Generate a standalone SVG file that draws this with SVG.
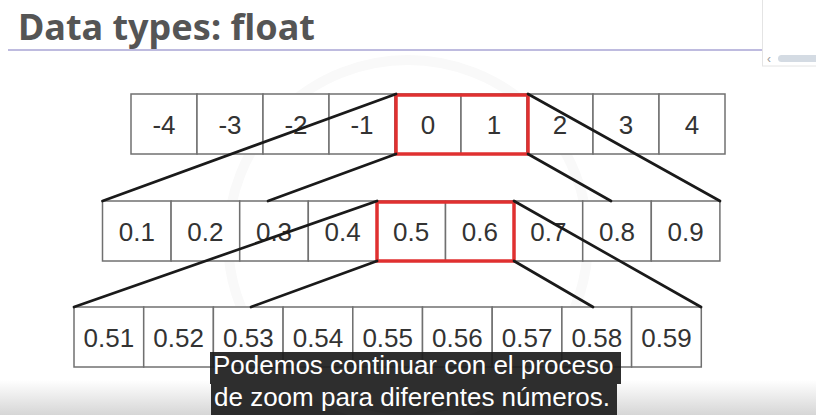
<svg xmlns="http://www.w3.org/2000/svg" width="816" height="415" viewBox="0 0 816 415">
<defs>
<linearGradient id="fade" x1="0" y1="0" x2="0" y2="1">
<stop offset="0" stop-color="#ffffff"/>
<stop offset="1" stop-color="#d6d6d6"/>
</linearGradient>
</defs>
<style>
.cell{fill:#ffffff;stroke:#707070;stroke-width:1.5}
.num{font-family:"Liberation Sans",Arial,sans-serif;font-size:26px;fill:#333333;text-anchor:middle}
.sel{fill:none;stroke:#e03030;stroke-width:3.5}
.zl{stroke:#1a1a1a;stroke-width:2.7;fill:none;stroke-linecap:round}
.sub{font-family:"Liberation Sans",Arial,sans-serif;font-size:26px;fill:#ffffff}
</style>
<rect x="0" y="0" width="816" height="415" fill="#ffffff"/>
<rect x="0" y="380" width="816" height="35" fill="url(#fade)"/>
<circle cx="408" cy="240" r="180" fill="none" stroke="#f9f9f9" stroke-width="10"/>
<g id="title">
<text x="18" y="40" font-family="Noto Sans,Liberation Sans,sans-serif" font-weight="bold" font-size="36" fill="#555555" textLength="297" lengthAdjust="spacingAndGlyphs">Data types: float</text>
<line x1="8" y1="50" x2="762" y2="50" stroke="#a8a4d4" stroke-width="1.5"/>
</g>
<g id="panel">
<rect x="762.5" y="-2" width="60" height="68" fill="#ffffff" stroke="#e4e4e4" stroke-width="1"/>
<text x="767" y="63" font-family="Liberation Sans,sans-serif" font-size="12" fill="#999999">‹</text>
<rect x="778" y="55" width="45" height="7" rx="3.5" fill="#d4dbe3"/>
</g>
<g id="row1">
<rect class="cell" x="131" y="94" width="66" height="60"/>
<rect class="cell" x="197" y="94" width="66" height="60"/>
<rect class="cell" x="263" y="94" width="66" height="60"/>
<rect class="cell" x="329" y="94" width="66" height="60"/>
<rect class="cell" x="395" y="94" width="66" height="60"/>
<rect class="cell" x="461" y="94" width="66" height="60"/>
<rect class="cell" x="527" y="94" width="66" height="60"/>
<rect class="cell" x="593" y="94" width="66" height="60"/>
<rect class="cell" x="659" y="94" width="66" height="60"/>
<text class="num" x="164" y="134">-4</text>
<text class="num" x="230" y="134">-3</text>
<text class="num" x="296" y="134">-2</text>
<text class="num" x="362" y="134">-1</text>
<text class="num" x="428" y="134">0</text>
<text class="num" x="494" y="134">1</text>
<text class="num" x="560" y="134">2</text>
<text class="num" x="626" y="134">3</text>
<text class="num" x="692" y="134">4</text>
<rect class="sel" x="396" y="95" width="132" height="59"/>
</g>
<g id="row2">
<rect class="cell" x="102.5" y="201" width="68.6" height="60"/>
<rect class="cell" x="171.1" y="201" width="68.6" height="60"/>
<rect class="cell" x="239.7" y="201" width="68.6" height="60"/>
<rect class="cell" x="308.3" y="201" width="68.6" height="60"/>
<rect class="cell" x="376.9" y="201" width="68.6" height="60"/>
<rect class="cell" x="445.5" y="201" width="68.6" height="60"/>
<rect class="cell" x="514.1" y="201" width="68.6" height="60"/>
<rect class="cell" x="582.7" y="201" width="68.6" height="60"/>
<rect class="cell" x="651.3" y="201" width="68.6" height="60"/>
<text class="num" x="136.8" y="241">0.1</text>
<text class="num" x="205.4" y="241">0.2</text>
<text class="num" x="274" y="241">0.3</text>
<text class="num" x="342.6" y="241">0.4</text>
<text class="num" x="411.2" y="241">0.5</text>
<text class="num" x="479.8" y="241">0.6</text>
<text class="num" x="548.4" y="241">0.7</text>
<text class="num" x="617" y="241">0.8</text>
<text class="num" x="685.6" y="241">0.9</text>
<rect class="sel" x="377" y="202" width="137" height="59"/>
</g>
<g id="row3">
<rect class="cell" x="74" y="307" width="69.7" height="60"/>
<rect class="cell" x="143.7" y="307" width="69.7" height="60"/>
<rect class="cell" x="213.4" y="307" width="69.7" height="60"/>
<rect class="cell" x="283.1" y="307" width="69.7" height="60"/>
<rect class="cell" x="352.8" y="307" width="69.7" height="60"/>
<rect class="cell" x="422.5" y="307" width="69.7" height="60"/>
<rect class="cell" x="492.2" y="307" width="69.7" height="60"/>
<rect class="cell" x="561.9" y="307" width="69.7" height="60"/>
<rect class="cell" x="631.6" y="307" width="69.7" height="60"/>
<text class="num" x="108.9" y="347">0.51</text>
<text class="num" x="178.6" y="347">0.52</text>
<text class="num" x="248.3" y="347">0.53</text>
<text class="num" x="318" y="347">0.54</text>
<text class="num" x="387.7" y="347">0.55</text>
<text class="num" x="457.4" y="347">0.56</text>
<text class="num" x="527.1" y="347">0.57</text>
<text class="num" x="596.8" y="347">0.58</text>
<text class="num" x="666.5" y="347">0.59</text>
</g>
<g id="connectors">
<line class="zl" x1="396" y1="94" x2="102.5" y2="201"/>
<line class="zl" x1="396" y1="154" x2="268" y2="201"/>
<line class="zl" x1="528" y1="94" x2="720" y2="201"/>
<line class="zl" x1="528" y1="154" x2="611" y2="201"/>
<line class="zl" x1="377" y1="201" x2="74" y2="307"/>
<line class="zl" x1="377" y1="261" x2="251" y2="307"/>
<line class="zl" x1="514" y1="201" x2="701" y2="307"/>
<line class="zl" x1="514" y1="261" x2="593" y2="307"/>
</g>
<g id="subtitles">
<rect x="210" y="352" width="411" height="32" fill="#1c1c1c" fill-opacity="0.92"/>
<rect x="211" y="384" width="406" height="31" fill="#1c1c1c" fill-opacity="0.92"/>
<text class="sub" x="213" y="374">Podemos continuar con el proceso</text>
<text class="sub" x="214" y="406">de zoom para diferentes números.</text>
</g>
</svg>
